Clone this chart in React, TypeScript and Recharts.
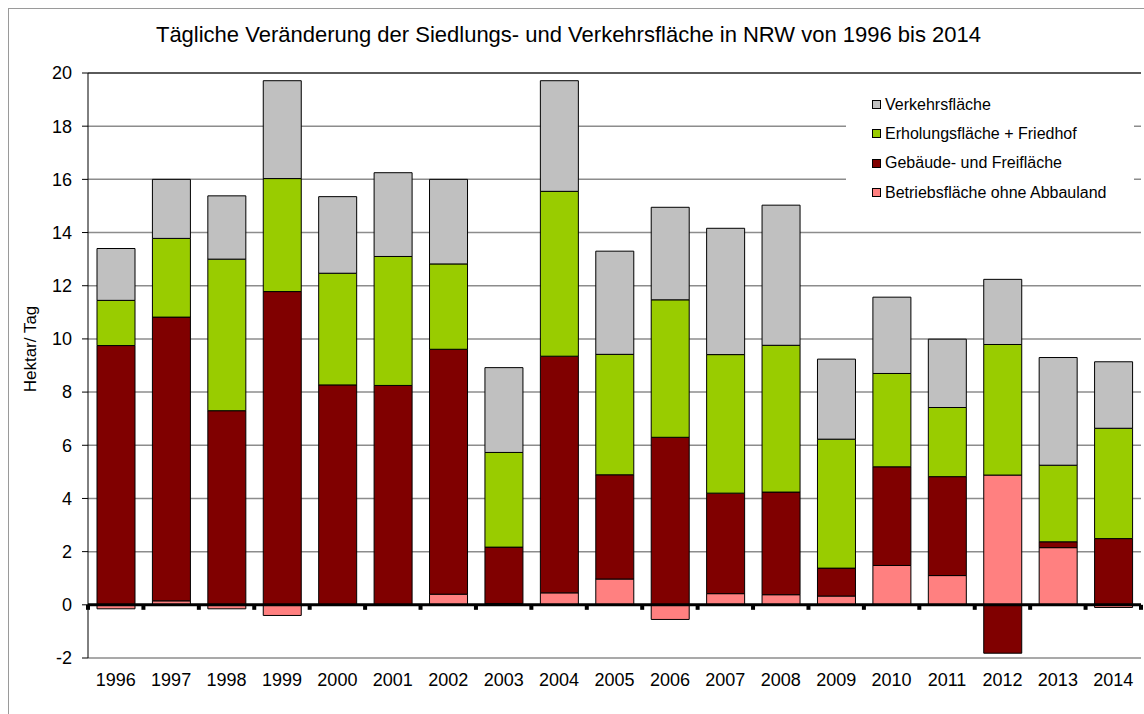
import { Bar, BarChart, CartesianGrid, Legend, ReferenceLine, XAxis, YAxis } from "recharts";

const years = ["1996", "1997", "1998", "1999", "2000", "2001", "2002", "2003", "2004", "2005", "2006", "2007", "2008", "2009", "2010", "2011", "2012", "2013", "2014"];
const betrieb = [-0.15, 0.15, -0.15, -0.4, 0, 0, 0.4, 0.05, 0.45, 0.97, -0.55, 0.42, 0.38, 0.33, 1.48, 1.1, 4.88, 2.15, -0.1];
const gebaeude = [9.75, 10.67, 7.3, 11.78, 8.27, 8.25, 9.21, 2.12, 8.9, 3.92, 6.3, 3.78, 3.86, 1.05, 3.71, 3.72, -1.82, 0.22, 2.49];
const erholung = [1.7, 2.96, 5.7, 4.25, 4.2, 4.85, 3.21, 3.56, 6.2, 4.53, 5.17, 5.21, 5.52, 4.85, 3.51, 2.6, 4.91, 2.88, 4.15];
const verkehr = [1.95, 2.22, 2.38, 3.68, 2.88, 3.15, 3.18, 3.19, 4.16, 3.88, 3.48, 4.75, 5.27, 3.01, 2.87, 2.57, 2.45, 4.05, 2.5];
const yTicks = [-2, 0, 2, 4, 6, 8, 10, 12, 14, 16, 18, 20];

const series = [
  { key: "betrieb", name: "Betriebsfläche ohne Abbauland", color: "#FF8080" },
  { key: "gebaeude", name: "Gebäude- und Freifläche", color: "#800000" },
  { key: "erholung", name: "Erholungsfläche + Friedhof", color: "#99CC00" },
  { key: "verkehr", name: "Verkehrsfläche", color: "#C0C0C0" },
];

const data = years.map((year, i) => ({
  year,
  betrieb: betrieb[i],
  gebaeude: gebaeude[i],
  erholung: erholung[i],
  verkehr: verkehr[i],
}));

const font = "'Liberation Sans', Arial, sans-serif";

// Nulllinie mit kleinen Teilstrichen an den Kategoriegrenzen
function ZeroLine(props: any) {
  const { x1, x2, y1 } = props;
  const step = (x2 - x1) / years.length;
  const ticks = [];
  for (let i = 0; i <= years.length; i++) {
    const x = x1 + i * step;
    ticks.push(<rect key={i} x={x - 2} y={y1} width={4} height={5} fill="#000" />);
  }
  return (
    <g>
      <line x1={x1} x2={x2} y1={y1} y2={y1} stroke="#000" strokeWidth={3} />
      {ticks}
    </g>
  );
}

function LegendBox() {
  return (
    <div style={{ background: "#fff", width: 288, height: 146, paddingTop: 16, boxSizing: "border-box", fontFamily: font, fontSize: 16, color: "#000" }}>
      {[...series].reverse().map((s) => (
        <div key={s.key} style={{ display: "flex", alignItems: "center", height: 29.3, paddingLeft: 26 }}>
          <span style={{ width: 7, height: 7, background: s.color, border: "1px solid #000", marginRight: 4, display: "inline-block" }} />
          <span>{s.name}</span>
        </div>
      ))}
    </div>
  );
}

export default function App() {
  return (
    <div style={{ position: "absolute", left: 0, top: 0, width: 1144, height: 714, background: "#fff", overflow: "hidden" }}>
      <div style={{ position: "absolute", left: 8, top: 8, width: 1200, height: 800, borderLeft: "1px solid #9a9a9a", borderTop: "1px solid #9a9a9a" }} />
      <div style={{ position: "absolute", left: 0, top: 22, width: 1137, textAlign: "center", fontFamily: font, fontSize: 22, color: "#000" }}>
        Tägliche Veränderung der Siedlungs- und Verkehrsfläche in NRW von 1996 bis 2014
      </div>
      <div style={{ position: "absolute", left: 0, top: 0 }}>
        <BarChart width={1144} height={714} data={data} stackOffset="sign" margin={{ top: 73, right: 3, bottom: 0, left: 0 }}>
          <CartesianGrid vertical={false} stroke="#8c8c8c" strokeWidth={1.5} />
          <XAxis dataKey="year" tickLine={false} axisLine={false} tickSize={0} tickMargin={15} height={56} interval={0} tick={{ fill: "#000", fontSize: 18, fontFamily: font }} />
          <YAxis
            domain={[-2, 20]}
            ticks={yTicks}
            width={88}
            interval={0}
            stroke="#000"
            tickSize={6}
            tickMargin={10}
            tick={{ fill: "#000", fontSize: 18, fontFamily: font }}
            label={{
              content: () => (
                <text x={30} y={349} transform="rotate(-90 30 349)" textAnchor="middle" dominantBaseline="central" fontSize={17} fontFamily={font} fill="#000">
                  Hektar/ Tag
                </text>
              ),
            }}
          />
          <YAxis yAxisId="r" orientation="right" domain={[-2, 20]} width={0} tick={false} tickLine={false} stroke="#333" />
          <ReferenceLine y={20} stroke="#404040" strokeWidth={1.5} />
          {series.map((s) => (
            <Bar key={s.key} dataKey={s.key} name={s.name} stackId="a" fill={s.color} stroke="#000" strokeWidth={1} barSize={38} isAnimationActive={false} />
          ))}
          <ReferenceLine y={0} shape={ZeroLine} />
          <Legend layout="vertical" align="center" verticalAlign="middle" content={() => <LegendBox />} wrapperStyle={{ left: 846, top: 74, width: 288, height: 146 }} />
        </BarChart>
      </div>
    </div>
  );
}
